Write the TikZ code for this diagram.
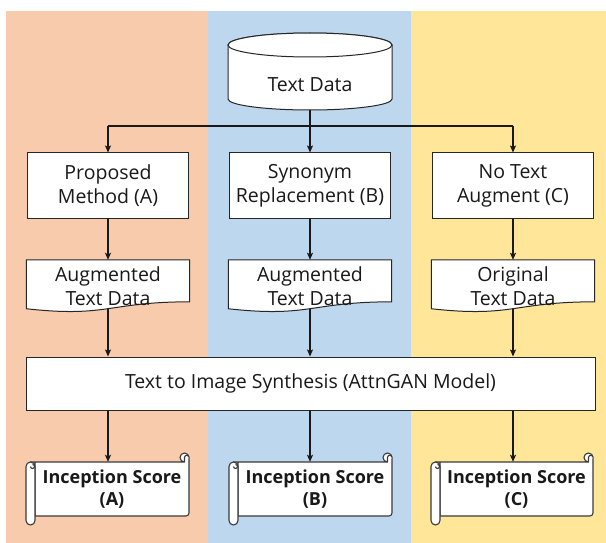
\documentclass[tikz,border=0pt]{standalone}
\usepackage{fontspec}
\setmainfont{Open Sans}
\usetikzlibrary{arrows.meta,calc,backgrounds}

\definecolor{panelA}{HTML}{F8CBAD}
\definecolor{panelB}{HTML}{BDD7EE}
\definecolor{panelC}{HTML}{FFE699}
\definecolor{inkgray}{HTML}{3A3A3A}

% horizontal scroll outline: #1 left, #2 top, #3 right, #4 bottom
\newcommand\drawscroll[4]{%
  \draw[scrollline] (#1+4.5,#2+9) -- (#3-4.5,#2+9)
    arc[start angle=270,end angle=0,radius=4.5pt]
    -- (#3,#4-12) arc[start angle=0,end angle=-90,radius=3pt]
    -- (#1+9,#4-9) -- (#1+9,#2+9) -- cycle;
  \draw[scrollline] (#3-4.5,#2+9) -- (#3-4.5,#2+4.5)
    arc[start angle=180,end angle=0,radius=2.25pt];
  \draw[scrollline] (#1,#2+13.5) arc[start angle=180,end angle=0,radius=4.5pt]
    -- (#1+9,#4-4.5) arc[start angle=0,end angle=-180,radius=4.5pt] -- cycle;
  \draw[scrollline] (#1+4.5,#2+13.5) arc[start angle=180,end angle=450,radius=2pt];
}

\begin{document}
\begin{tikzpicture}[x=1pt,y=-1pt,
  every node/.style={text=black!90},
  txt/.style={font=\fontsize{19.5}{24}\selectfont},
  boldtxt/.style={font=\fontsize{18}{21.5}\selectfont\bfseries},
  procbox/.style={txt,draw=black!85,line width=1pt,fill=white,
    minimum width=161pt,minimum height=65pt,align=center,inner sep=0pt},
  docbox/.style={txt,minimum width=163pt,minimum height=52pt,align=center,inner sep=0pt},
  docline/.style={draw=black!85,line width=1pt,fill=white},
  scrollbox/.style={boldtxt,minimum width=154pt,minimum height=54pt,align=center,inner sep=0pt},
  scrollline/.style={draw=inkgray,line width=1.1pt,fill=white,line join=round},
  conn/.style={draw=black!90,line width=1.2pt},
  arr/.style={conn,-{Stealth[length=7pt,width=6pt,inset=1.5pt]}},
]
\useasboundingbox (0,0) rectangle (606,543);

% coloured column panels
\begin{scope}[on background layer]
  \fill[white] (0,0) rectangle (606,543);
  \fill[panelA] (6,11) rectangle (208,543);
  \fill[panelB] (208,11) rectangle (411,543);
  \fill[panelC] (411,11) rectangle (606,543);
\end{scope}

% text database
\node[txt] (data) at (310,85) {Text Data};
\coordinate (databot) at (310,110);
\begin{scope}[on background layer]
  \draw[docline] (228,45) -- (228,99)
    arc[start angle=180,end angle=360,x radius=82pt,y radius=11pt]
    -- (392,45) arc[start angle=0,end angle=180,x radius=82pt,y radius=12pt] -- cycle;
  \draw[docline] (310,45) ellipse[x radius=82pt,y radius=12pt];
\end{scope}

% augmentation methods
\node[procbox] (pA) at (108,185.5) {Proposed\\Method (A)};
\node[procbox] (pB) at (310,185.5) {Synonym\\Replacement (B)};
\node[procbox] (pC) at (513,185.5) {No Text\\Augment (C)};

% resulting text data (document shapes)
\node[docbox] (dA) at (108,286) {Augmented\\Text Data};
\node[docbox] (dB) at (310,286) {Augmented\\Text Data};
\node[docbox] (dC) at (513,286) {Original\\Text Data};
\begin{scope}[on background layer]
  \foreach \d in {dA,dB,dC}{
    \draw[docline] (\d.north west) -- (\d.north east)
      -- ($(\d.north east)!0.802!(\d.south east)$)
      .. controls ($(\d.north)!0.802!(\d.south)$) and ($(\d.north)!1.107!(\d.south)$)
      .. ($(\d.north west)!0.934!(\d.south west)$)
      coordinate[pos=0.5] (\d bot) -- cycle;
  }
\end{scope}

% synthesis model
\node[procbox,minimum width=569pt,minimum height=53pt] (gan) at (310.5,383.5)
  {Text to Image Synthesis (AttnGAN Model)};

% evaluation scrolls
\node[scrollbox] (sA) at (112,489) {Inception Score\\(A)};
\node[scrollbox] (sB) at (315,489) {Inception Score\\(B)};
\node[scrollbox] (sC) at (516.5,489) {Inception Score\\(C)};
\begin{scope}[on background layer]
  \drawscroll{26}{453}{189}{525}
  \drawscroll{229}{453}{392}{525}
  \drawscroll{431}{453}{593}{525}
\end{scope}

% distribution of the text data
\coordinate (jA) at (108,126);
\coordinate (jB) at (310,126);
\coordinate (jC) at (513,126);
\draw[conn] (databot) -- (jB);
\draw[conn] (jA) -- (jC);
\draw[arr] (jA) -- (pA.north);
\draw[arr] (jB) -- (pB.north);
\draw[arr] (jC) -- (pC.north);

% method -> text data
\draw[arr] (pA.south) -- (dA.north);
\draw[arr] (pB.south) -- (dB.north);
\draw[arr] (pC.south) -- (dC.north);

% text data -> model
\draw[arr] (dAbot) -- (dAbot |- gan.north);
\draw[arr] (dBbot) -- (dBbot |- gan.north);
\draw[arr] (dCbot) -- (dCbot |- gan.north);

% model -> scores
\draw[arr] (gan.south -| pA) -- (sA.north -| pA);
\draw[arr] (gan.south -| pB) -- (sB.north -| pB);
\draw[arr] (gan.south -| pC) -- (sC.north -| pC);
\end{tikzpicture}
\end{document}
